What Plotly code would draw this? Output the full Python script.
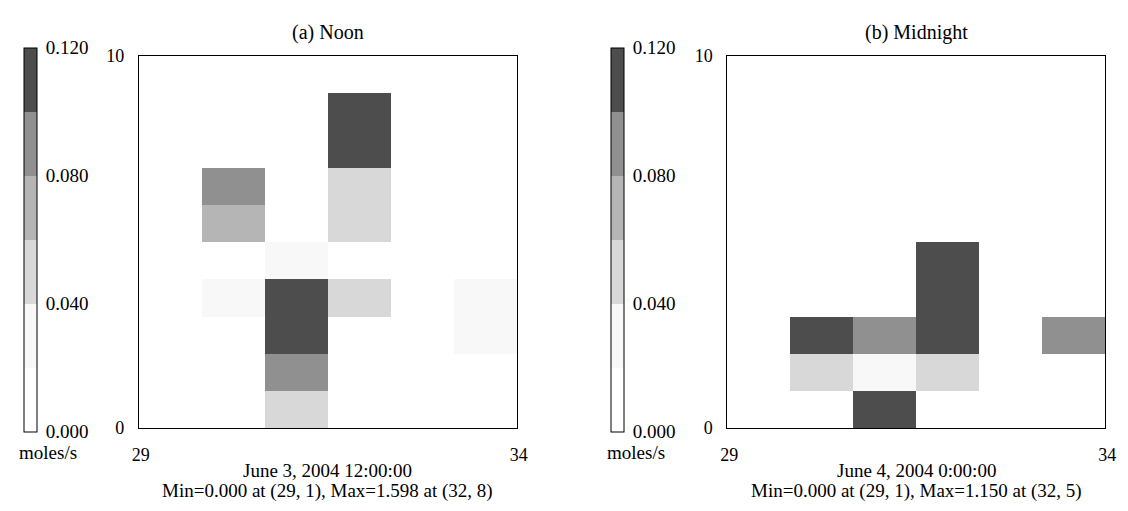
import plotly.graph_objects as go

# ---- data ----
columns = [29, 30, 31, 32, 33, 34]
rows = [1, 2, 3, 4, 5, 6, 7, 8, 9, 10]

# values in moles/s, rows listed bottom (row 1) to top (row 10)
noon = [
    [0.0, 0.0, 0.050, 0.0, 0.0, 0.0],
    [0.0, 0.0, 0.090, 0.0, 0.0, 0.0],
    [0.0, 0.0, 0.600, 0.0, 0.0, 0.030],
    [0.0, 0.030, 1.200, 0.050, 0.0, 0.030],
    [0.0, 0.0, 0.030, 0.0, 0.0, 0.0],
    [0.0, 0.070, 0.0, 0.050, 0.0, 0.0],
    [0.0, 0.090, 0.0, 0.050, 0.0, 0.0],
    [0.0, 0.0, 0.0, 1.598, 0.0, 0.0],
    [0.0, 0.0, 0.0, 0.800, 0.0, 0.0],
    [0.0, 0.0, 0.0, 0.0, 0.0, 0.0],
]
midnight = [
    [0.0, 0.0, 0.600, 0.0, 0.0, 0.0],
    [0.0, 0.050, 0.030, 0.050, 0.0, 0.0],
    [0.0, 0.500, 0.090, 0.900, 0.0, 0.090],
    [0.0, 0.0, 0.0, 1.000, 0.0, 0.0],
    [0.0, 0.0, 0.0, 1.150, 0.0, 0.0],
    [0.0, 0.0, 0.0, 0.0, 0.0, 0.0],
    [0.0, 0.0, 0.0, 0.0, 0.0, 0.0],
    [0.0, 0.0, 0.0, 0.0, 0.0, 0.0],
    [0.0, 0.0, 0.0, 0.0, 0.0, 0.0],
    [0.0, 0.0, 0.0, 0.0, 0.0, 0.0],
]

level_edges = [0.0, 0.02, 0.04, 0.06, 0.08, 0.10, 0.12]
band_colors = ["#ffffff", "#f8f8f8", "#d8d8d8", "#b5b5b5", "#909090", "#4d4d4d"]
cbar_ticks = [0.0, 0.04, 0.08, 0.12]
cbar_ticktext = ["0.000", "0.040", "0.080", "0.120"]
x_ticktext = ["29", "34"]
y_ticktext = ["0", "10"]

titles = ["(a) Noon", "(b) Midnight"]
dates = ["June 3, 2004 12:00:00", "June 4, 2004 0:00:00"]
stats = ["Min=0.000 at (29, 1), Max=1.598 at (32, 8)",
         "Min=0.000 at (29, 1), Max=1.150 at (32, 5)"]
unit = "moles/s"

# ---- layout geometry (pixels) ----
W, H = 1128, 511
FONT = "Liberation Serif, Times New Roman, Times, serif"
FS_TICK = 18
FS_TITLE = 20
FS_TEXT = 19
frame_left = [134, 732]
frame_w = 384
frame_top, frame_bot = 48, 435
cbar_left = [17, 614]
cbar_top, cbar_bot = 47, 431


def px_x(p):
    return p / W


def px_y(p):
    return 1 - p / H


zmin, zmax = level_edges[0], level_edges[-1]
colorscale = []
for i, c in enumerate(band_colors):
    a = (level_edges[i] - zmin) / (zmax - zmin)
    b = (level_edges[i + 1] - zmin) / (zmax - zmin)
    colorscale.append([a, c])
    colorscale.append([b, c])

fig = go.Figure()
datasets = [noon, midnight]
for k in range(2):
    xa = "x" if k == 0 else "x2"
    ya = "y" if k == 0 else "y2"
    fig.add_trace(go.Heatmap(
        z=datasets[k], x=columns, y=rows,
        zmin=zmin, zmax=zmax, colorscale=colorscale,
        xaxis=xa, yaxis=ya, xgap=0, ygap=0,
        colorbar=dict(
            x=px_x(cbar_left[k]), xanchor="left", xpad=0,
            y=px_y((cbar_top + cbar_bot) / 2), yanchor="middle", ypad=0,
            len=cbar_bot - cbar_top, lenmode="pixels",
            thickness=13, thicknessmode="pixels",
            outlinewidth=1, outlinecolor="black",
            tickvals=cbar_ticks, ticktext=cbar_ticktext,
            ticks="outside", ticklen=5, tickcolor="rgba(0,0,0,0)",
            tickfont=dict(family=FONT, size=FS_TICK + 1, color="black"),
        ),
    ))

axis_common = dict(showgrid=False, zeroline=False, showline=True, mirror=True,
                   linecolor="black", linewidth=1, ticks="",
                   tickfont=dict(family=FONT, size=FS_TICK, color="black"))
layout = dict(
    width=W, height=H, autosize=False,
    margin=dict(l=0, r=0, t=0, b=0),
    paper_bgcolor="white", plot_bgcolor="white",
    font=dict(family=FONT, size=FS_TEXT, color="black"),
    showlegend=False,
)
for k in range(2):
    sx = "" if k == 0 else "2"
    layout["xaxis" + sx] = dict(
        axis_common,
        domain=[px_x(frame_left[k]), px_x(frame_left[k] + frame_w)],
        range=[columns[0] - 0.5, columns[-1] + 0.5],
        tickvals=[columns[0] - 0.5, columns[-1] + 0.5], ticktext=x_ticktext,
        ticklabelshift=2, ticklabelstandoff=10,
        anchor="y" + sx,
    )
    layout["yaxis" + sx] = dict(
        axis_common,
        domain=[px_y(frame_bot), px_y(frame_top)],
        range=[rows[0] - 0.5, rows[-1] + 0.5],
        tickvals=[rows[0] - 0.5, rows[-1] + 0.5], ticktext=y_ticktext,
        ticklabelstandoff=10,
        anchor="x" + sx,
    )
fig.update_layout(**layout)

annos = []
for k in range(2):
    cx = px_x(frame_left[k] + frame_w / 2)
    annos.append(dict(text=titles[k], x=cx, y=px_y(23), xref="paper", yref="paper",
                      xanchor="center", yanchor="middle", showarrow=False,
                      font=dict(size=FS_TITLE)))
    annos.append(dict(text=dates[k], x=cx, y=px_y(479), xref="paper", yref="paper",
                      xanchor="center", yanchor="middle", showarrow=False))
    annos.append(dict(text=stats[k], x=cx, y=px_y(501), xref="paper", yref="paper",
                      xanchor="center", yanchor="middle", showarrow=False))
    annos.append(dict(text=unit, x=px_x(cbar_left[k] + 25), y=px_y(461), xref="paper",
                      yref="paper", xanchor="center", yanchor="middle", showarrow=False))
fig.update_layout(annotations=annos)

fig.write_html(
    "out.html",
    config={"displayModeBar": False},
    post_script="document.body.style.margin='0';document.body.style.overflow='hidden';",
)
